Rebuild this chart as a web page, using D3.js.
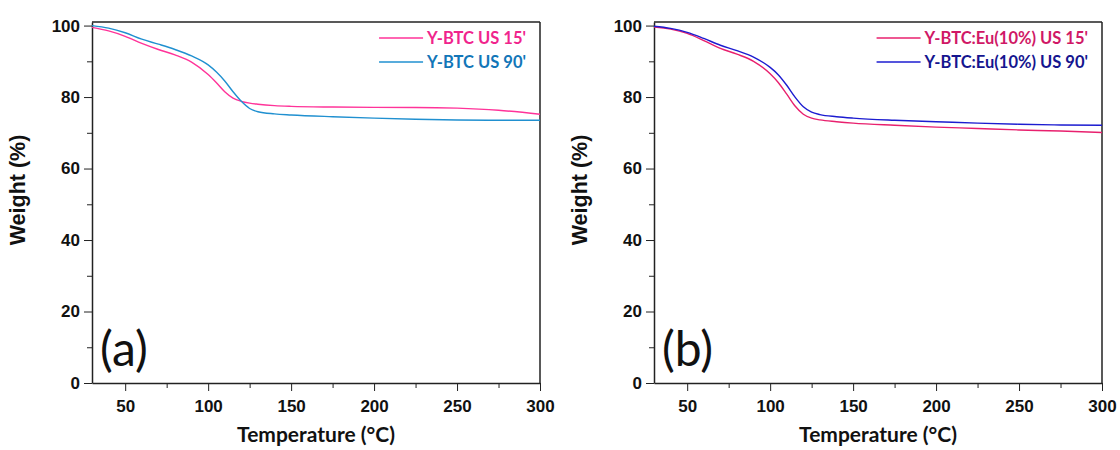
<!DOCTYPE html>
<html>
<head>
<meta charset="utf-8">
<script src="https://cdn.jsdelivr.net/npm/d3@7"></script>
<style>
  body { margin: 0; background: #fff; }
  svg { display: block; }
  .tick text { font-family: "Liberation Sans", Arial, sans-serif; font-weight: bold; font-size: 17px; fill: #111; }
  .domain, .tick line { stroke: #222; }
</style>
</head>
<body>
<div id="container"></div>
<script>
// temperature grid (°C) shared by all curves
const temps = [30, 40, 50, 60, 70, 80, 90, 100, 105, 110, 115, 120, 125, 130, 140, 150, 175, 200, 225, 250, 275, 300];

// panel (a)
const ybtc15 = [99.5, 98.5, 97.0, 95.0, 93.3, 91.8, 89.8, 86.3, 84.0, 81.5, 79.7, 78.8, 78.3, 78.0, 77.6, 77.4, 77.2, 77.1, 77.1, 76.9, 76.3, 75.2];
const ybtc90 = [100, 99.3, 98.0, 96.2, 94.8, 93.3, 91.5, 89.0, 87.0, 84.5, 81.5, 78.8, 76.8, 75.9, 75.3, 75.0, 74.5, 74.1, 73.8, 73.6, 73.5, 73.5];

// panel (b)
const ybtcEu15 = [99.6, 99.0, 97.8, 95.8, 93.6, 92.0, 90.0, 86.5, 84.0, 80.8, 77.5, 75.2, 74.1, 73.6, 73.1, 72.7, 72.1, 71.6, 71.2, 70.8, 70.5, 70.1];
const ybtcEu90 = [99.8, 99.2, 98.1, 96.4, 94.5, 93.0, 91.2, 88.3, 86.2, 83.3, 80.0, 77.3, 75.8, 75.1, 74.5, 74.1, 73.5, 73.1, 72.7, 72.4, 72.2, 72.1];

const xTicks = [50, 100, 150, 200, 250, 300];
const yTicks = [0, 20, 40, 60, 80, 100];

const panels = [
  { left: 92, label: '(a)', series: [
      { name: "Y-BTC US 15'", values: ybtc15, color: '#ff3399', text: '#f0248c' },
      { name: "Y-BTC US 90'", values: ybtc90, color: '#2090d0', text: '#1276b8' } ] },
  { left: 654, label: '(b)', series: [
      { name: "Y-BTC:Eu(10%) US 15'", values: ybtcEu15, color: '#e8206e', text: '#d01866' },
      { name: "Y-BTC:Eu(10%) US 90'", values: ybtcEu90, color: '#1c1cd0', text: '#15158f' } ] }
];

const w = 1120, h = 450;
const plotTop = 22, plotBottom = 383, plotW = 448;

const svg = d3.select('#container')
  .append('svg')
  .attr('width', w)
  .attr('height', h);

panels.forEach(p => {
  const g = svg.append('g').attr('transform', 'translate(' + p.left + ',0)');

  const xScale = d3.scaleLinear().domain([30, 300]).range([0, plotW]);
  const yScale = d3.scaleLinear().domain([0, 101]).range([plotBottom, plotTop]);

  // minor ticks
  g.append('g')
    .attr('transform', 'translate(0,' + plotBottom + ')')
    .call(d3.axisBottom(xScale).tickValues([75, 125, 175, 225, 275]).tickSize(5).tickFormat(''))
    .call(s => s.select('.domain').remove());
  g.append('g')
    .call(d3.axisLeft(yScale).tickValues([10, 30, 50, 70, 90]).tickSize(5).tickFormat(''))
    .call(s => s.select('.domain').remove());

  // major axes
  g.append('g')
    .attr('transform', 'translate(0,' + plotBottom + ')')
    .call(d3.axisBottom(xScale).tickValues(xTicks).tickSize(8).tickSizeOuter(0).tickPadding(9))
    .call(s => s.select('.domain').attr('stroke-width', 1.5));
  g.append('g')
    .call(d3.axisLeft(yScale).tickValues(yTicks).tickSize(8).tickSizeOuter(0).tickPadding(4))
    .call(s => s.select('.domain').attr('stroke-width', 1.5));

  // frame top/right
  g.append('line').attr('x1', 0).attr('x2', plotW).attr('y1', plotTop).attr('y2', plotTop)
    .attr('stroke', '#222').attr('stroke-width', 1.5);
  g.append('line').attr('x1', plotW).attr('x2', plotW).attr('y1', plotTop).attr('y2', plotBottom)
    .attr('stroke', '#222').attr('stroke-width', 1.5);

  const line = d3.line()
    .x((d, i) => xScale(temps[i]))
    .y(d => yScale(d))
    .curve(d3.curveMonotoneX);

  p.series.forEach(s => {
    g.append('path')
      .datum(s.values)
      .attr('fill', 'none')
      .attr('stroke', s.color)
      .attr('stroke-width', 1.4)
      .attr('d', line);
  });

  // legend, right aligned inside the frame
  const leg = g.append('g').attr('transform', 'translate(' + (plotW - 14) + ',0)');
  p.series.forEach((s, i) => {
    const y = 38 + i * 24;
    const t = leg.append('text')
      .attr('x', 0).attr('y', y + 5.5)
      .attr('text-anchor', 'end')
      .attr('font-family', 'Lato, "Open Sans", sans-serif')
      .attr('font-weight', 'bold')
      .attr('font-size', 16.5)
      .attr('fill', s.text)
      .text(s.name);
    const tw = t.node().getComputedTextLength();
    leg.append('line')
      .attr('x1', -tw - 48).attr('x2', -tw - 4)
      .attr('y1', y).attr('y2', y)
      .attr('stroke', s.color).attr('stroke-width', 1.4);
  });

  // panel label
  g.append('text')
    .attr('x', 8).attr('y', 366)
    .attr('font-family', 'Lato, "Open Sans", sans-serif')
    .attr('font-size', 48)
    .attr('fill', '#111')
    .text(p.label);

  // axis titles
  g.append('text')
    .attr('x', plotW / 2).attr('y', 442)
    .attr('text-anchor', 'middle')
    .attr('font-family', 'Lato, "Open Sans", sans-serif')
    .attr('font-weight', 'bold')
    .attr('font-size', 21)
    .attr('fill', '#111')
    .text('Temperature (°C)');
  g.append('text')
    .attr('transform', 'translate(-67,190) rotate(-90)')
    .attr('text-anchor', 'middle')
    .attr('font-family', '"Liberation Sans", Arial, sans-serif')
    .attr('font-weight', 'bold')
    .attr('font-size', 21.5)
    .attr('fill', '#111')
    .text('Weight (%)');
});
</script>
</body>
</html>
